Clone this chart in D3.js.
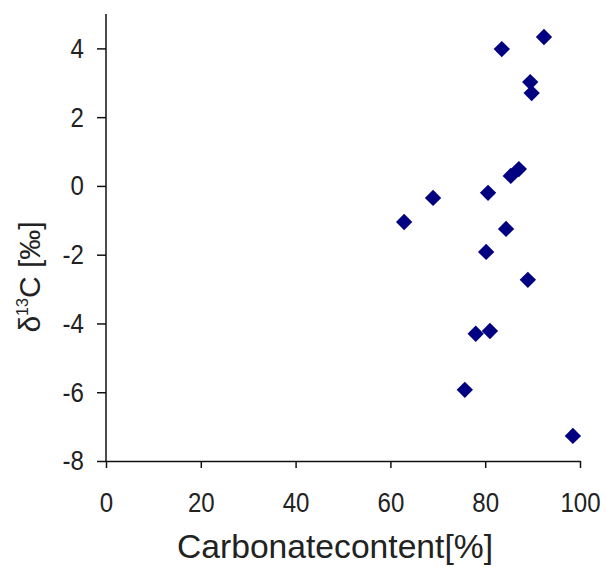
<!DOCTYPE html>
<html>
<head>
<meta charset="utf-8">
<script src="https://cdn.jsdelivr.net/npm/d3@7"></script>
<style>
  body { margin: 0; background: #fff; }
  text { font-family: "Liberation Sans", Arial, sans-serif; }
</style>
</head>
<body>
<svg id="chart"></svg>
<script>
// carbonate content (%) vs d13C (permil)
const carbonate = [83.5, 92.4, 89.5, 89.8, 87.1, 85.4, 80.6, 69.0, 62.9, 84.4, 80.2, 89.0, 78.0, 81.0, 75.7, 98.5];
const d13c      = [3.98, 4.33, 3.02, 2.70, 0.49, 0.29, -0.20, -0.35, -1.05, -1.25, -1.92, -2.73, -4.30, -4.22, -5.93, -7.27];
const xTicks = [0, 20, 40, 60, 80, 100];
const yTicks = [-8, -6, -4, -2, 0, 2, 4];

const width = 606, height = 567;
const margin = { top: 14, left: 106 };
const sx = 0.86; // tick labels are a bit narrow in the original

const svg = d3.select("#chart").attr("width", width).attr("height", height);

const x = d3.scaleLinear().domain([0, 100]).range([margin.left, 580]);
const y = d3.scaleLinear().domain([-8, 5]).range([461, margin.top]);

const data = carbonate.map((c, i) => ({ c, d: d13c[i] }));
const fmt = d => String(d); // plain hyphen minus like the original

// axes
const xAxis = svg.append("g")
  .attr("transform", `translate(0,${y(-8)})`)
  .call(d3.axisBottom(x).tickValues(xTicks).tickFormat(fmt).tickSize(7).tickPadding(24).tickSizeOuter(0));
const yAxis = svg.append("g")
  .attr("transform", `translate(${x(0)},0)`)
  .call(d3.axisLeft(y).tickValues(yTicks).tickFormat(fmt).tickSize(9).tickPadding(13).tickSizeOuter(0));

[xAxis, yAxis].forEach(g => {
  g.select(".domain").attr("stroke", "#111").attr("stroke-width", 1.5);
  g.selectAll(".tick line").attr("stroke", "#111").attr("stroke-width", 1.5);
  g.selectAll(".tick text").attr("fill", "#222").style("font-size", "28px")
    .attr("transform", `scale(${sx},1)`);
});
yAxis.selectAll(".tick text").attr("x", -22 / sx);
// y axis line extends to top
yAxis.select(".domain").attr("d", `M0,${y(5)}V${y(-8)}`);

// points
svg.append("g")
  .selectAll("path")
  .data(data)
  .join("path")
  .attr("transform", d => `translate(${x(d.c)},${y(d.d)})`)
  .attr("d", d3.symbol(d3.symbolDiamond2, 170))
  .attr("fill", "#000080");

// x title
svg.append("text")
  .attr("x", 335)
  .attr("y", 558)
  .attr("text-anchor", "middle")
  .attr("fill", "#222")
  .attr("textLength", 316)
  .attr("lengthAdjust", "spacingAndGlyphs")
  .style("font-size", "33px")
  .text("Carbonatecontent[%]");

// y title
const yt = svg.append("text")
  .attr("transform", "translate(40,277) rotate(-90)")
  .attr("text-anchor", "middle")
  .attr("fill", "#222")
  .style("font-size", "30px");
yt.append("tspan").text("δ");
yt.append("tspan").attr("dy", -12).style("font-size", "16px").text("13");
yt.append("tspan").attr("dy", 12).text("C [‰]");
</script>
</body>
</html>
